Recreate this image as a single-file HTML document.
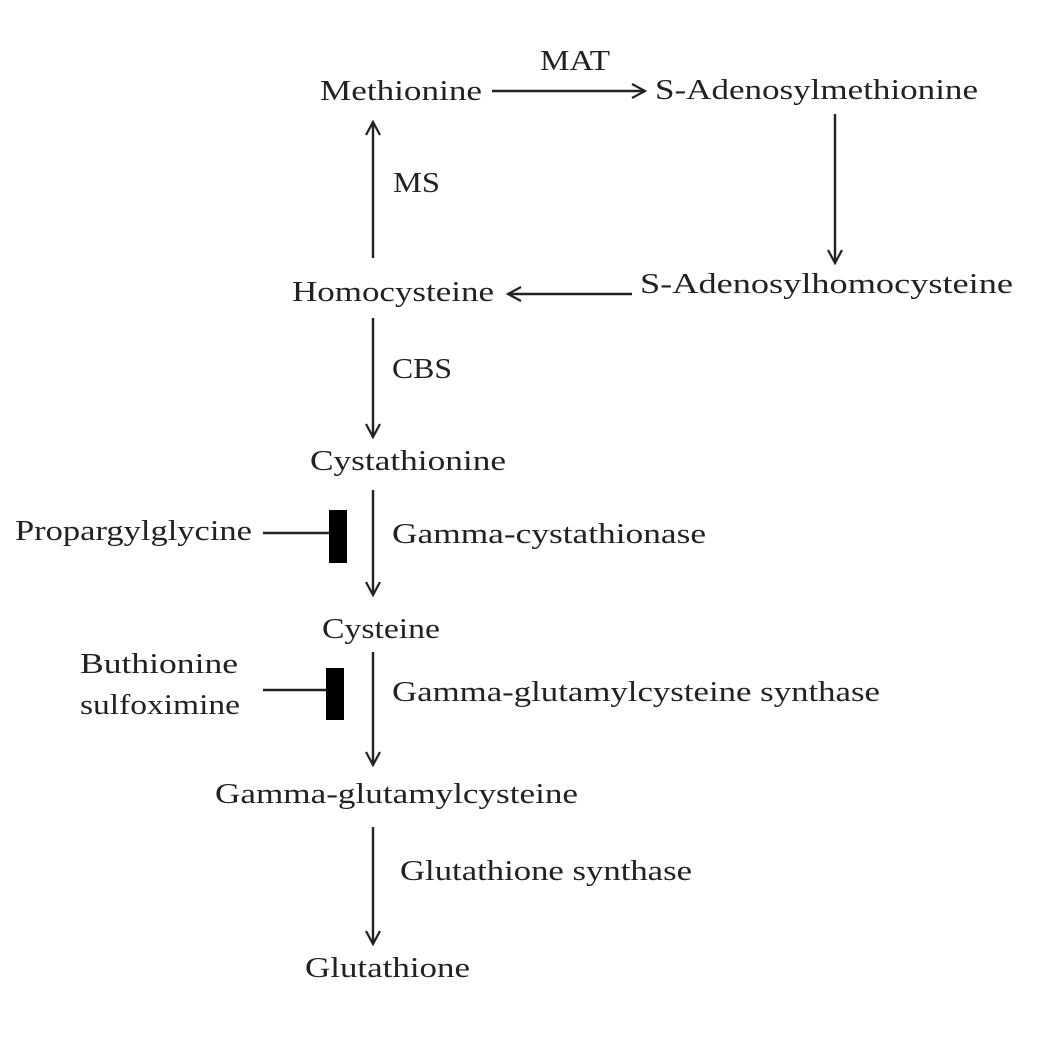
<!DOCTYPE html>
<html><head><meta charset="utf-8"><style>
html,body{margin:0;padding:0;background:#fff;}
svg{display:block}
text{font-family:"Liberation Serif",serif;font-size:29px;fill:#222;}
</style></head><body>
<svg width="1037" height="1037" viewBox="0 0 1037 1037" xmlns="http://www.w3.org/2000/svg">
<defs>
<marker id="a" markerWidth="20" markerHeight="20" refX="14" refY="8" orient="auto" markerUnits="userSpaceOnUse">
<path d="M1,1 L14,8 L1,15" fill="none" stroke="#222" stroke-width="2.2"/>
</marker>
</defs>
<g stroke="#222" stroke-width="2.4" fill="none">
<line x1="492" y1="91" x2="645" y2="91" marker-end="url(#a)"/>
<line x1="835" y1="114" x2="835" y2="263" marker-end="url(#a)"/>
<line x1="632" y1="294" x2="508" y2="294" marker-end="url(#a)"/>
<line x1="373" y1="258" x2="373" y2="122" marker-end="url(#a)"/>
<line x1="373" y1="318" x2="373" y2="437" marker-end="url(#a)"/>
<line x1="373" y1="490" x2="373" y2="595" marker-end="url(#a)"/>
<line x1="373" y1="652" x2="373" y2="765" marker-end="url(#a)"/>
<line x1="373" y1="827" x2="373" y2="944" marker-end="url(#a)"/>
<line x1="263" y1="533" x2="330" y2="533"/>
<line x1="263" y1="690" x2="327" y2="690"/>
</g>
<rect x="329" y="510" width="18" height="53" fill="#000"/>
<rect x="326" y="668" width="18" height="52" fill="#000"/>
<g>
<text x="540" y="70" textLength="70" lengthAdjust="spacingAndGlyphs">MAT</text>
<text x="320" y="100" textLength="162" lengthAdjust="spacingAndGlyphs">Methionine</text>
<text x="655" y="99" textLength="323" lengthAdjust="spacingAndGlyphs">S-Adenosylmethionine</text>
<text x="393" y="192" textLength="47" lengthAdjust="spacingAndGlyphs">MS</text>
<text x="292" y="301" textLength="202" lengthAdjust="spacingAndGlyphs">Homocysteine</text>
<text x="640" y="293" textLength="373" lengthAdjust="spacingAndGlyphs">S-Adenosylhomocysteine</text>
<text x="392" y="378" textLength="60" lengthAdjust="spacingAndGlyphs">CBS</text>
<text x="310" y="470" textLength="196" lengthAdjust="spacingAndGlyphs">Cystathionine</text>
<text x="15" y="540" textLength="237" lengthAdjust="spacingAndGlyphs">Propargylglycine</text>
<text x="392" y="543" textLength="314" lengthAdjust="spacingAndGlyphs">Gamma-cystathionase</text>
<text x="322" y="638" textLength="118" lengthAdjust="spacingAndGlyphs">Cysteine</text>
<text x="80" y="673" textLength="158" lengthAdjust="spacingAndGlyphs">Buthionine</text>
<text x="80" y="714" textLength="160" lengthAdjust="spacingAndGlyphs">sulfoximine</text>
<text x="392" y="701" textLength="488" lengthAdjust="spacingAndGlyphs">Gamma-glutamylcysteine synthase</text>
<text x="215" y="803" textLength="363" lengthAdjust="spacingAndGlyphs">Gamma-glutamylcysteine</text>
<text x="400" y="880" textLength="292" lengthAdjust="spacingAndGlyphs">Glutathione synthase</text>
<text x="305" y="977" textLength="165" lengthAdjust="spacingAndGlyphs">Glutathione</text>
</g>
</svg>
</body></html>
